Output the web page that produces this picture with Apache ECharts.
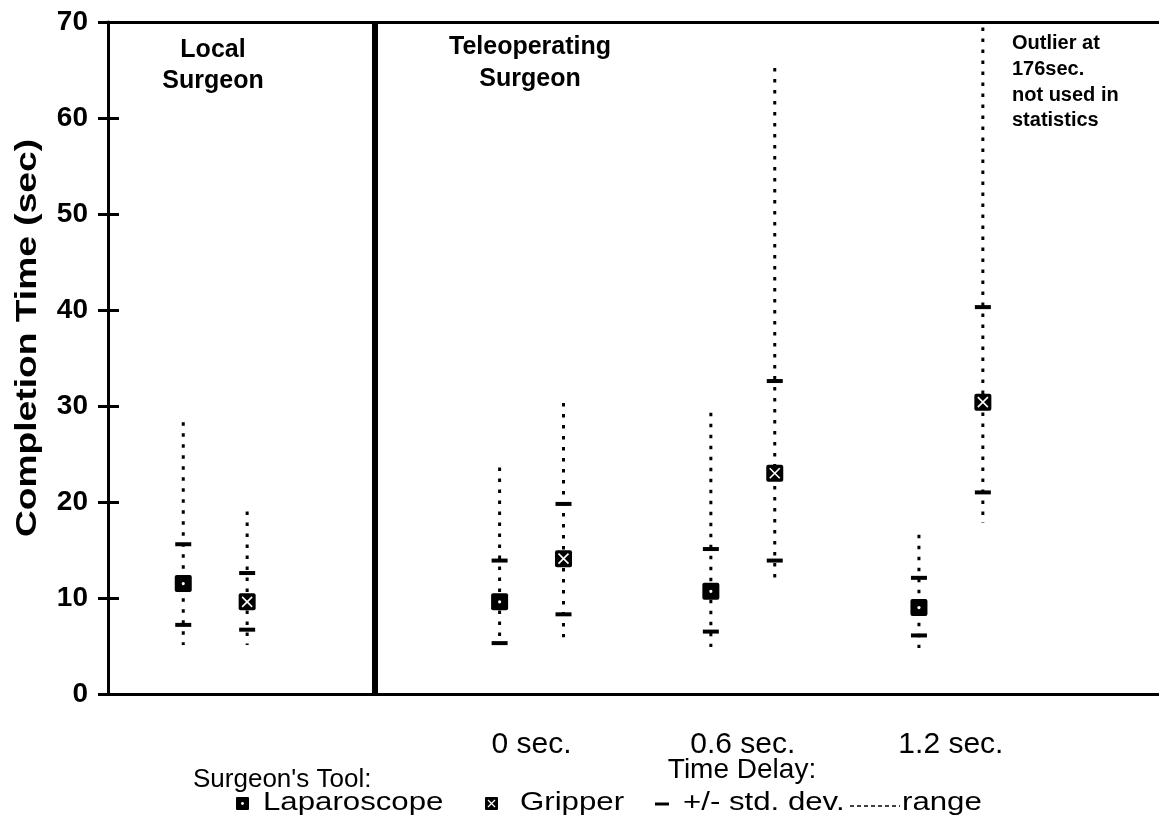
<!DOCTYPE html>
<html>
<head>
<meta charset="utf-8">
<script src="https://cdn.jsdelivr.net/npm/echarts@6/dist/echarts.min.js"></script>
<style>html,body{margin:0;padding:0;background:#fff}#c{width:1159px;height:815px}</style>
</head>
<body>
<div id="c"></div>
<script>
// ---- data ----
const groupLabels = ['Local', '0 sec.', '0.6 sec.', '1.2 sec.'];
const lapMin   = [5.1, 5.3, 4.9, 4.8];
const lapSdLo  = [7.2, 5.3, 6.5, 6.1];
const lapMean  = [11.5, 9.6, 10.7, 9.0];
const lapSdHi  = [15.6, 13.9, 15.1, 12.1];
const lapMax   = [28.3, 23.6, 29.3, 16.6];
const gripMin  = [5.1, 5.9, 11.9, 17.8];
const gripSdLo = [6.7, 8.3, 13.9, 21.0];
const gripMean = [9.6, 14.1, 23.0, 30.4];
const gripSdHi = [12.6, 19.8, 32.6, 40.3];
const gripMax  = [19.0, 30.3, 65.2, 176];
const yTicks = [0, 10, 20, 30, 40, 50, 60, 70];

// ---- layout (not data) ----
const groupPos = [0.51, 2.015, 3.02, 4.01];
const offset = 0.152;
const separatorX = 1.275;
const FONT = "'Liberation Sans', Arial, sans-serif";

function build(mn, sl, me, sh, mx, sign) {
  return groupPos.map((p, i) => [p + sign * offset, mn[i], sl[i], me[i], sh[i], mx[i]]);
}

function makeRender(kind) {
  return function (params, api) {
    const x = api.value(0);
    const pLo = api.coord([x, api.value(1)]);
    const pSl = api.coord([x, api.value(2)]);
    const pMe = api.coord([x, api.value(3)]);
    const pSh = api.coord([x, api.value(4)]);
    const pHi = api.coord([x, api.value(5)]);
    const cx = pMe[0];
    const children = [
      { type: 'line', shape: { x1: cx, y1: pHi[1], x2: cx, y2: pLo[1] },
        style: { stroke: '#000', lineWidth: 3, lineDash: [3.5, 7.5] } },
      { type: 'line', shape: { x1: cx - 8, y1: pSl[1], x2: cx + 8, y2: pSl[1] },
        style: { stroke: '#000', lineWidth: 4 } },
      { type: 'line', shape: { x1: cx - 8, y1: pSh[1], x2: cx + 8, y2: pSh[1] },
        style: { stroke: '#000', lineWidth: 4 } },
      { type: 'rect', shape: { x: cx - 8.5, y: pMe[1] - 8.5, width: 17, height: 17, r: 2 },
        style: { fill: '#000' } }
    ];
    if (kind === 'grip') {
      children.push({ type: 'line', shape: { x1: cx - 5, y1: pMe[1] - 5, x2: cx + 5, y2: pMe[1] + 5 }, style: { stroke: '#fff', lineWidth: 1.6 } });
      children.push({ type: 'line', shape: { x1: cx + 5, y1: pMe[1] - 5, x2: cx - 5, y2: pMe[1] + 5 }, style: { stroke: '#fff', lineWidth: 1.6 } });
    } else {
      children.push({ type: 'circle', shape: { cx: cx, cy: pMe[1], r: 1.6 }, style: { fill: '#fff' } });
    }
    return { type: 'group', children };
  };
}

const chart = echarts.init(document.getElementById('c'), null, { renderer: 'canvas' });

const txt = (x, y, text, size, weight, align, extra) => Object.assign({
  type: 'text', x, y,
  style: { text, font: `${weight} ${size}px ${FONT}`, fill: '#000', align: align || 'left', verticalAlign: 'middle', lineHeight: size * 1.25 }
}, extra || {});

const option = {
  animation: false,
  backgroundColor: '#fff',
  grid: { left: 108, right: 0, top: 22, bottom: 121 },
  xAxis: [{
    type: 'value', min: 0, max: 5, position: 'bottom',
    axisLine: { show: true, onZero: false, lineStyle: { color: '#000', width: 3 } },
    axisTick: { show: false },
    splitLine: { show: false },
    axisLabel: {
      customValues: groupPos.slice(1),
      formatter: v => groupLabels[groupPos.indexOf(v)] || '',
      color: '#000', fontFamily: FONT, fontSize: 30, margin: 36
    }
  }, {
    type: 'value', min: 0, max: 5, position: 'top',
    axisLine: { show: true, onZero: false, lineStyle: { color: '#000', width: 3 } },
    axisTick: { show: false }, axisLabel: { show: false }, splitLine: { show: false }
  }],
  yAxis: [{
    type: 'value', min: 0, max: 70, interval: 10,
    axisLine: { show: true, lineStyle: { color: '#000', width: 3 } },
    axisTick: { show: true, inside: false, length: 10, lineStyle: { color: '#000', width: 3 } },
    splitLine: { show: false },
    axisLabel: { color: '#000', fontFamily: FONT, fontSize: 28, fontWeight: 'bold', margin: 20,
      formatter: v => yTicks.includes(v) ? String(v) : '' }
  }, {
    type: 'value', min: 0, max: 70, interval: 10, position: 'left',
    axisLine: { show: false },
    axisTick: { show: true, inside: true, length: 11, lineStyle: { color: '#000', width: 3 } },
    splitLine: { show: false }, axisLabel: { show: false }
  }],
  series: [{
    type: 'custom', name: 'Laparoscope', clip: true,
    renderItem: makeRender('lap'),
    encode: { x: 0, y: [1, 2, 3, 4, 5] },
    data: build(lapMin, lapSdLo, lapMean, lapSdHi, lapMax, -1),
    markLine: {
      silent: true, symbol: 'none', label: { show: false },
      lineStyle: { color: '#000', width: 6, type: 'solid' },
      data: [{ xAxis: separatorX }]
    }
  }, {
    type: 'custom', name: 'Gripper', clip: true,
    renderItem: makeRender('grip'),
    encode: { x: 0, y: [1, 2, 3, 4, 5] },
    data: build(gripMin, gripSdLo, gripMean, gripSdHi, gripMax, 1)
  }],
  graphic: [
    txt(213, 50, 'Local', 25, 'bold', 'center'),
    txt(213, 81, 'Surgeon', 25, 'bold', 'center'),
    txt(530, 47, 'Teleoperating', 25, 'bold', 'center'),
    txt(530, 79, 'Surgeon', 25, 'bold', 'center'),
    txt(1012, 43, 'Outlier at', 20, 'bold', 'left'),
    txt(1012, 69, '176sec.', 20, 'bold', 'left'),
    txt(1012, 95, 'not used in', 20, 'bold', 'left'),
    txt(1012, 120, 'statistics', 20, 'bold', 'left'),
    txt(28, 338, 'Completion Time (sec)', 30, 'bold', 'center', { rotation: Math.PI / 2, scaleX: 1.24 }),
    txt(742, 770, 'Time Delay:', 28, 'normal', 'center'),
    txt(193, 780, "Surgeon's Tool:", 26, 'normal', 'left'),
    { type: 'rect', shape: { x: 236, y: 797, width: 13, height: 13, r: 1 }, style: { fill: '#000' } },
    { type: 'circle', shape: { cx: 242.5, cy: 803.5, r: 1.4 }, style: { fill: '#fff' } },
    txt(263, 803, 'Laparoscope', 26, 'normal', 'left', { scaleX: 1.2 }),
    { type: 'rect', shape: { x: 485, y: 797, width: 13, height: 13, r: 1 }, style: { fill: '#000' } },
    { type: 'line', shape: { x1: 488, y1: 800, x2: 495, y2: 807 }, style: { stroke: '#fff', lineWidth: 1.3 } },
    { type: 'line', shape: { x1: 495, y1: 800, x2: 488, y2: 807 }, style: { stroke: '#fff', lineWidth: 1.3 } },
    txt(520, 803, 'Gripper', 26, 'normal', 'left', { scaleX: 1.2 }),
    { type: 'line', shape: { x1: 655, y1: 804, x2: 669, y2: 804 }, style: { stroke: '#000', lineWidth: 3 } },
    txt(683, 803, '+/- std. dev.', 26, 'normal', 'left', { scaleX: 1.2 }),
    { type: 'line', shape: { x1: 850, y1: 806, x2: 900, y2: 806 }, style: { stroke: '#000', lineWidth: 1.5, lineDash: [4, 3] } },
    txt(902, 803, 'range', 26, 'normal', 'left', { scaleX: 1.2 })
  ]
};
chart.setOption(option);
</script>
</body>
</html>
